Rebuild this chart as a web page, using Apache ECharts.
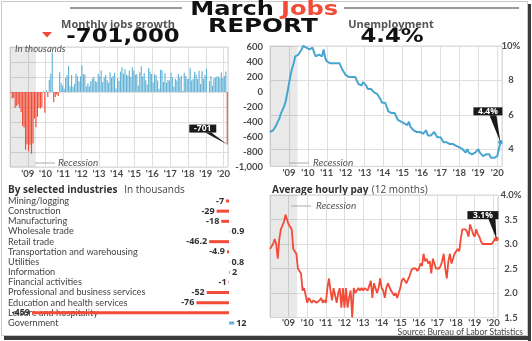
<!DOCTYPE html>
<html><head><meta charset="utf-8">
<script src="https://cdn.jsdelivr.net/npm/echarts@6/dist/echarts.min.js"></script>
<style>html,body{margin:0;padding:0;background:#fff}#c{width:532px;height:341px}</style>
</head><body><div id="c"></div>
<script>
// Monthly jobs change (thousands), Jan 2008 – Mar 2020
const jobs = [
 -10,-85,-78,-211,-185,-165,-209,-266,-452,-473,-769,-695,
 -791,-703,-823,-686,-351,-470,-329,-213,-220,-204,10,-275,
 23,-68,164,243,524,-137,-68,-34,-52,262,119,87,
 43,189,225,346,77,225,69,110,248,209,141,209,
 358,237,233,78,115,76,143,177,203,146,132,244,
 211,286,130,197,226,162,122,261,190,212,258,47,
 190,151,272,329,246,304,232,218,286,200,331,286,
 234,238,86,262,344,206,254,157,100,321,272,239,
 126,237,225,153,43,297,291,135,249,124,164,155,
 259,195,73,175,155,239,190,221,18,256,216,175,
 176,324,155,175,270,235,173,282,108,277,176,227,
 312,1,147,210,85,182,194,207,208,185,261,184,
 214,275,-701
];
// Unemployment rate (%), Jan 2008 – Mar 2020
const unemployment = [
 5.0,4.9,5.1,5.0,5.4,5.6,5.8,6.1,6.1,6.5,6.8,7.3,
 7.8,8.3,8.7,9.0,9.4,9.5,9.5,9.6,9.8,10.0,9.9,9.9,
 9.8,9.8,9.9,9.9,9.6,9.4,9.4,9.5,9.5,9.4,9.8,9.3,
 9.1,9.0,9.0,9.1,9.0,9.1,9.0,9.0,9.0,8.8,8.6,8.5,
 8.3,8.3,8.2,8.2,8.2,8.2,8.2,8.1,7.8,7.8,7.7,7.9,
 8.0,7.7,7.5,7.6,7.5,7.5,7.3,7.2,7.2,7.2,6.9,6.7,
 6.6,6.7,6.7,6.2,6.3,6.1,6.2,6.1,5.9,5.7,5.8,5.6,
 5.7,5.5,5.4,5.4,5.6,5.3,5.2,5.1,5.0,5.0,5.1,5.0,
 4.9,4.9,5.0,5.1,4.8,4.9,4.8,4.9,5.0,4.9,4.7,4.7,
 4.7,4.6,4.4,4.4,4.4,4.3,4.3,4.4,4.3,4.2,4.2,4.1,
 4.1,4.1,4.0,4.0,3.8,4.0,3.8,3.8,3.7,3.8,3.8,3.9,
 4.0,3.8,3.8,3.6,3.6,3.7,3.7,3.7,3.5,3.6,3.5,3.5,
 3.6,3.5,4.4
];
// Average hourly pay, 12-month change (%), Jan 2008 – Mar 2020
const hourlyPay = [
 2.9,2.95,3.0,3.1,3.0,2.7,3.1,3.3,3.3,3.45,3.6,3.6,
 3.4,3.35,3.3,2.9,2.9,2.8,2.5,2.5,2.4,2.05,2.1,2.1,
 1.8,1.9,1.9,1.8,1.85,1.85,1.8,1.8,1.85,1.9,1.8,1.85,
 1.8,2.1,2.3,2.05,1.85,2.1,1.95,1.8,2.0,2.1,1.7,2.1,
 1.7,2.1,1.7,1.9,2.05,1.5,2.1,2.0,2.05,2.1,2.05,2.1,
 2.05,2.1,2.1,2.05,2.05,2.25,1.9,2.2,2.1,2.0,2.1,2.3,
 2.1,2.05,1.9,2.1,2.2,2.2,2.05,2.0,1.95,2.0,1.9,1.9,
 2.1,2.25,2.3,2.3,2.2,2.2,2.35,2.45,2.5,2.5,2.5,2.45,
 2.5,2.6,2.55,2.8,2.65,2.7,2.6,2.65,2.4,2.7,2.6,2.5,
 2.5,2.5,2.55,2.65,2.8,2.5,2.3,2.65,2.8,2.6,2.7,2.8,
 2.8,2.9,2.85,3.1,3.3,3.3,3.3,3.25,3.15,3.4,3.3,3.2,
 3.15,3.3,3.2,3.15,3.05,3.0,3.0,3.0,3.0,3.0,3.0,3.0,
 3.05,3.1,3.1
];
const industries = ['Mining/logging','Construction','Manufacturing','Wholesale trade','Retail trade',
 'Transportation and warehousing','Utilities','Information','Financial activities',
 'Professional and business services','Education and health services','Leisure and hospitality','Government'];
const industryValues = [-7,-29,-18,0.9,-46.2,-4.9,0.8,2,-1,-52,-76,-459,12];
const yearLabels = ["'09","'10","'11","'12","'13","'14","'15","'16","'17","'18","'19","'20"];
const jobsTicks = [600,400,200,0,-200,-400,-600,-800,-1000];

const RED = '#f24b37', BLUE = '#63b3d6', LINEBLUE = '#47a6d0';
const AXC = '#4a4a4a';
const FONT = 'Lato';
const GRIDC = '#dedede';
const recession = [[{xAxis: 0}, {xAxis: 17.5}]];
const recStyle = {silent: true, itemStyle: {color: 'rgba(0,0,0,0.085)'}, data: recession};

function yearFmt(v) {
  if (v % 12 !== 0 || v <= 0) return '';
  const k = v / 12 - 1;
  return yearLabels[k] || '';
}
function xAx(gi, max, margin) {
  return {gridIndex: gi, type: 'value', min: 0, max: max, interval: 12,
    axisLine: {show: false}, axisTick: {show: false},
    axisLabel: {formatter: yearFmt, color: AXC, fontFamily: FONT, fontWeight: 'bold', fontSize: 9.5, margin: margin, showMaxLabel: false},
    splitLine: {show: true, lineStyle: {color: GRIDC, width: 1}}};
}

const chart = echarts.init(document.getElementById('c'), null, {renderer: 'canvas'});
const K2 = 17.2;
const bigFont = {fontFamily: 'DejaVu Sans', fontWeight: 'bold', fontSize: 19, verticalAlign: 'middle'};

const staticGraphics = [
  // frame
  {type: 'rect', shape: {x: 1.5, y: 1.5, width: 526, height: 334}, style: {fill: 'none', stroke: '#c8c8c8', lineWidth: 1}, z: 0},
  {type: 'rect', shape: {x: 528, y: 4, width: 3, height: 337}, style: {fill: '#3a3a3a'}, z: 0},
  {type: 'rect', shape: {x: 4, y: 336, width: 527, height: 4}, style: {fill: '#3a3a3a'}, z: 0},
  // header rules
  {type: 'line', shape: {x1: 70, y1: 8, x2: 182, y2: 8}, style: {stroke: '#9a9a9a', lineWidth: 2}},
  {type: 'line', shape: {x1: 344, y1: 8, x2: 519, y2: 8}, style: {stroke: '#9a9a9a', lineWidth: 2}},
  {type: 'text', x: 274, y: 10.5, scaleX: 1.27, style: Object.assign({text: 'March', align: 'right', fill: '#111'}, bigFont)},
  {type: 'text', x: 281, y: 10.5, scaleX: 1.27, style: Object.assign({text: 'Jobs', align: 'left', fill: RED}, bigFont)},
  {type: 'text', x: 263, y: 27.5, scaleX: 1.3, style: Object.assign({text: 'REPORT', align: 'center', fill: '#111'}, bigFont)},
  {type: 'text', x: 118, y: 25, style: {text: 'Monthly jobs growth', align: 'center', verticalAlign: 'middle', fontFamily: 'Open Sans', fontWeight: 'bold', fontSize: 11, fill: '#555'}},
  {type: 'polygon', shape: {points: [[42, 32], [52, 32], [47, 37.5]]}, style: {fill: RED}},
  {type: 'text', x: 123, y: 37, scaleX: 1.2, style: Object.assign({text: '-701,000', align: 'center', fill: '#111'}, bigFont)},
  {type: 'text', x: 391, y: 25, style: {text: 'Unemployment', align: 'center', verticalAlign: 'middle', fontFamily: 'Open Sans', fontWeight: 'bold', fontSize: 11, fill: '#555'}},
  {type: 'text', x: 392, y: 37.5, scaleX: 1.2, style: Object.assign({text: '4.4%', align: 'center', fill: '#111'}, bigFont)},
  {type: 'text', x: 15, y: 49, style: {text: 'In thousands', verticalAlign: 'middle', fontFamily: FONT, fontStyle: 'italic', fontSize: 9.5, fill: '#555'}, z: 10},
  // recession keys
  {type: 'line', shape: {x1: 35, y1: 163, x2: 55, y2: 163}, style: {stroke: '#aaa', lineWidth: 1}, z: 10},
  {type: 'text', x: 58, y: 163, style: {text: 'Recession', verticalAlign: 'middle', fontFamily: FONT, fontStyle: 'italic', fontSize: 10, fill: '#555'}, z: 10},
  {type: 'line', shape: {x1: 289, y1: 163, x2: 309, y2: 163}, style: {stroke: '#aaa', lineWidth: 1}, z: 10},
  {type: 'text', x: 313, y: 163, style: {text: 'Recession', verticalAlign: 'middle', fontFamily: FONT, fontStyle: 'italic', fontSize: 10, fill: '#555'}, z: 10},
  {type: 'line', shape: {x1: 291, y1: 206, x2: 311, y2: 206}, style: {stroke: '#aaa', lineWidth: 1}, z: 10},
  {type: 'text', x: 316, y: 206, style: {text: 'Recession', verticalAlign: 'middle', fontFamily: FONT, fontStyle: 'italic', fontSize: 10, fill: '#555'}, z: 10},
  // lower titles
  {type: 'text', x: 8, y: 190, style: {text: '{a|By selected industries}  {b|In thousands}', verticalAlign: 'middle',
    rich: {a: {fontFamily: 'Open Sans', fontWeight: 'bold', fontSize: 10, fill: '#333'}, b: {fontFamily: 'Open Sans', fontSize: 10, fill: '#444'}}}},
  {type: 'text', x: 272, y: 190, style: {text: '{a|Average hourly pay} {b|(12 months)}', verticalAlign: 'middle',
    rich: {a: {fontFamily: 'Open Sans', fontWeight: 'bold', fontSize: 10, fill: '#333'}, b: {fontFamily: 'Open Sans', fontSize: 10, fill: '#444'}}}},
  {type: 'text', x: 523, y: 332.5, style: {text: 'Source: Bureau of Labor Statistics', align: 'right', verticalAlign: 'middle', fontFamily: FONT, fontSize: 8.5, fill: '#444'}}
];

const option = {
  animation: false,
  backgroundColor: '#fff',
  grid: [
    {left: 10, top: 47, width: 218, height: 120, show: true, borderColor: '#d6d6d6', borderWidth: 1, backgroundColor: 'transparent'},
    {left: 270, top: 46, width: 232, height: 7 * K2, show: true, borderColor: '#d6d6d6', borderWidth: 1, backgroundColor: 'transparent'},
    {left: 270, top: 46, width: 232, height: 6 * K2},
    {left: 14.4, top: 195.9, width: 236.1, height: 132.2},
    {left: 270, top: 195, width: 228, height: 122.5, show: true, borderColor: '#d6d6d6', borderWidth: 1, backgroundColor: 'transparent'}
  ],
  xAxis: [
    xAx(0, 147, 2),
    xAx(1, 147, 2),
    {gridIndex: 2, type: 'value', min: 0, max: 147, show: false},
    {gridIndex: 3, type: 'value', min: -500, max: 50, show: false},
    xAx(4, 147, 0)
  ],
  yAxis: [
    {gridIndex: 0, type: 'value', position: 'right', min: -1000, max: 600, interval: 200,
      axisLine: {show: false}, axisTick: {show: false},
      axisLabel: {align: 'right', margin: 35, color: AXC, fontFamily: FONT, fontWeight: 'bold', fontSize: 9.5,
        formatter: v => { const i = jobsTicks.indexOf(v); return i < 0 ? '' : (v === -1000 ? '-1,000' : String(v)); }},
      splitLine: {lineStyle: {color: GRIDC}}},
    {gridIndex: 1, type: 'value', position: 'right', min: 3, max: 10, interval: 1,
      axisLine: {show: false}, axisTick: {show: false}, axisLabel: {show: false}, splitLine: {show: false}},
    {gridIndex: 2, type: 'value', position: 'right', min: 4, max: 10, interval: 2,
      axisLine: {show: false}, axisTick: {show: false},
      axisLabel: {align: 'center', margin: 9, color: AXC, fontFamily: FONT, fontWeight: 'bold', fontSize: 9.5,
        formatter: v => v === 10 ? '10%' : String(v)},
      splitLine: {lineStyle: {color: GRIDC}}},
    {gridIndex: 3, type: 'category', data: industries, inverse: true, offset: 6.4,
      axisLine: {show: false}, axisTick: {show: false},
      axisLabel: {inside: true, interval: 0, margin: 0, color: '#444', fontFamily: FONT, fontSize: 9.2, padding: [0, 0, 8, 0]}},
    {gridIndex: 4, type: 'value', position: 'right', min: 1.5, max: 4, interval: 0.5,
      axisLine: {show: false}, axisTick: {show: false},
      axisLabel: {align: 'center', margin: 13, color: AXC, fontFamily: FONT, fontWeight: 'bold', fontSize: 9.5,
        formatter: v => v === 4 ? '4.0%' : v.toFixed(1)},
      splitLine: {lineStyle: {color: GRIDC}}}
  ],
  series: [
    {type: 'bar', xAxisIndex: 0, yAxisIndex: 0, barWidth: 1.15,
      data: jobs.map((v, i) => ({value: [i + 0.5, v], itemStyle: {color: v < 0 ? RED : BLUE}})),
      markArea: recStyle},
    {type: 'line', xAxisIndex: 1, yAxisIndex: 1, data: unemployment.map((v, i) => [i, v]),
      lineStyle: {color: LINEBLUE, width: 2}, itemStyle: {color: LINEBLUE},
      showSymbol: true, symbolSize: 4.5,
      symbol: (v, p) => p.dataIndex === unemployment.length - 1 ? 'circle' : 'none',
      markArea: recStyle},
    {type: 'bar', xAxisIndex: 3, yAxisIndex: 3, barWidth: 3,
      data: industryValues.map(v => ({value: v, itemStyle: {color: v < 0 ? RED : BLUE},
        label: {show: true, position: v < 0 ? 'left' : 'right', distance: 2}})),
      label: {color: '#333', fontFamily: 'Open Sans', fontWeight: 'bold', fontSize: 9}},
    {type: 'line', xAxisIndex: 4, yAxisIndex: 4, data: hourlyPay.map((v, i) => [i, v]),
      lineStyle: {color: RED, width: 1.8}, itemStyle: {color: RED},
      showSymbol: true, symbolSize: 4.5,
      symbol: (v, p) => p.dataIndex === hourlyPay.length - 1 ? 'circle' : 'none',
      markArea: recStyle}
  ],
  graphic: staticGraphics
};
chart.setOption(option);

// annotation callouts anchored on the data points
function callout(gridIndex, x, y, text, bx, by, bw, t1, t2) {
  const p = chart.convertToPixel({gridIndex: gridIndex}, [x, y]);
  const X = p[0] + bx, Y = p[1] + by, H = 8;
  return [
    {type: 'polygon', z: 20, shape: {points: [[X + t1, Y + H], [X + t2, Y + H], [p[0], p[1]]]}, style: {fill: '#1a1a1a'}},
    {type: 'rect', z: 20, shape: {x: X, y: Y, width: bw, height: H}, style: {fill: '#1a1a1a'}},
    {type: 'text', z: 21, x: X + bw / 2, y: Y + H / 2 + 0.5, style: {text: text, align: 'center', verticalAlign: 'middle', fontFamily: 'Open Sans', fontWeight: 'bold', fontSize: 8.5, fill: '#fff'}}
  ];
}
const n = jobs.length - 1;
const g = staticGraphics.concat(
  callout(0, n + 0.5, jobs[n], '-701', -38, -20, 27, 16, 22),
  callout(1, n, unemployment[n], '4.4%', -27, -35, 29, 16, 23),
  callout(4, n, hourlyPay[n], '3.1%', -29, -28, 31, 21, 28)
);
chart.setOption({graphic: g});
</script>
</body></html>
